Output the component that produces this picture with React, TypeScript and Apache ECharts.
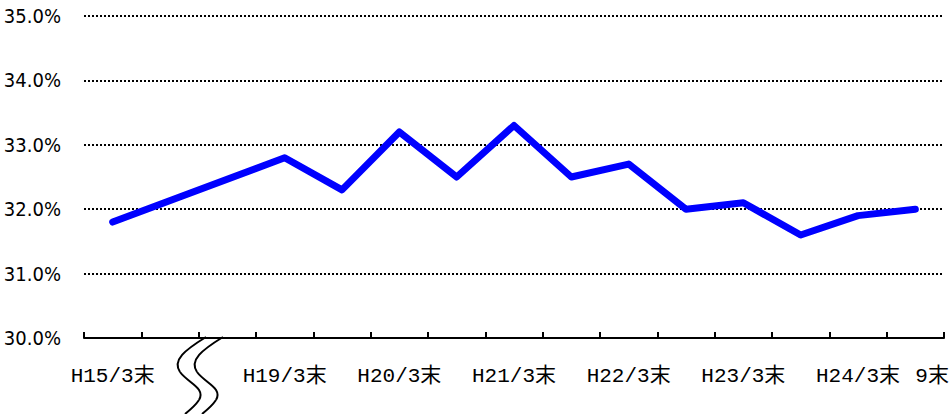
import React, { useEffect, useRef } from "react";
import * as echarts from "echarts";

const categories = [
  "H15/3末", "H16", "H17", "H19/3末", "H19/9末", "H20/3末", "H20/9末", "H21/3末",
  "H21/9末", "H22/3末", "H22/9末", "H23/3末", "H23/9末", "H24/3末", "H24/9末",
];
const tickLabels = [
  "H15/3末", "", "", "H19/3末", "", "H20/3末", "", "H21/3末",
  "", "H22/3末", "", "H23/3末", "", "H24/3末", "9末",
];
const ratio = [31.8, null, null, 32.8, 32.3, 33.2, 32.5, 33.3, 32.5, 32.7, 32.0, 32.1, 31.6, 31.9, 32.0];
const yTicks = [30, 31, 32, 33, 34, 35];

export default function App() {
  const ref = useRef<HTMLDivElement>(null);
  useEffect(() => {
    if (!ref.current) return;
    const chart = echarts.init(ref.current, null, { renderer: "svg" });
    const curve = (dx: number) => {
      const segs = [
        [206, 337, 185, 350, 172, 360, 180, 372],
        [180, 372, 188, 383, 206, 388, 199, 400],
        [199, 400, 195, 406, 190, 410, 185, 414],
      ];
      return segs.map((s) => ({
        type: "bezierCurve",
        silent: true,
        shape: {
          x1: s[0] + dx, y1: s[1], cpx1: s[2] + dx, cpy1: s[3],
          cpx2: s[4] + dx, cpy2: s[5], x2: s[6] + dx, y2: s[7],
        },
        style: { stroke: "#000", lineWidth: 2, fill: null },
      }));
    };
    chart.setOption({
      animation: false,
      backgroundColor: "#fff",
      grid: { left: 84, right: 8, top: 16, bottom: 76 },
      xAxis: {
        type: "category",
        data: categories,
        boundaryGap: true,
        axisLine: { show: true, lineStyle: { color: "#000", width: 2 } },
        axisTick: {
          show: true,
          inside: true,
          length: 6,
          interval: 0,
          alignWithLabel: false,
          lineStyle: { color: "#000", width: 2 },
        },
        axisLabel: {
          interval: 0,
          margin: 28,
          color: "#000",
          fontSize: 21,
          alignMaxLabel: "left",
          fontFamily: "'Liberation Mono', 'Noto Sans CJK JP', monospace",
          formatter: (_v: string, i: number) => tickLabels[i],
        },
        splitLine: { show: false },
      },
      yAxis: {
        type: "value",
        min: yTicks[0],
        max: yTicks[yTicks.length - 1],
        interval: 1,
        axisLine: { show: false },
        axisTick: { show: false },
        axisLabel: {
          margin: 23,
          color: "#000",
          fontSize: 20,
          padding: [4, 0, 0, 0],
          fontFamily: "'Liberation Sans Narrow', 'Arial Narrow', 'DejaVu Sans Condensed', sans-serif",
          formatter: (v: number) => v.toFixed(1) + "%",
        },
        splitLine: { show: true, lineStyle: { color: "#000", width: 2, type: [2, 2] } },
      },
      series: [
        {
          type: "line",
          data: ratio,
          connectNulls: true,
          showSymbol: false,
          lineStyle: { color: "#0000ff", width: 7, cap: "round", join: "round" },
        },
      ],
      graphic: [...curve(0), ...curve(17)],
    });
    return () => chart.dispose();
  }, []);
  return (
    <div
      ref={ref}
      style={{ position: "fixed", left: 0, top: 0, width: 952, height: 414, background: "#fff" }}
    />
  );
}
